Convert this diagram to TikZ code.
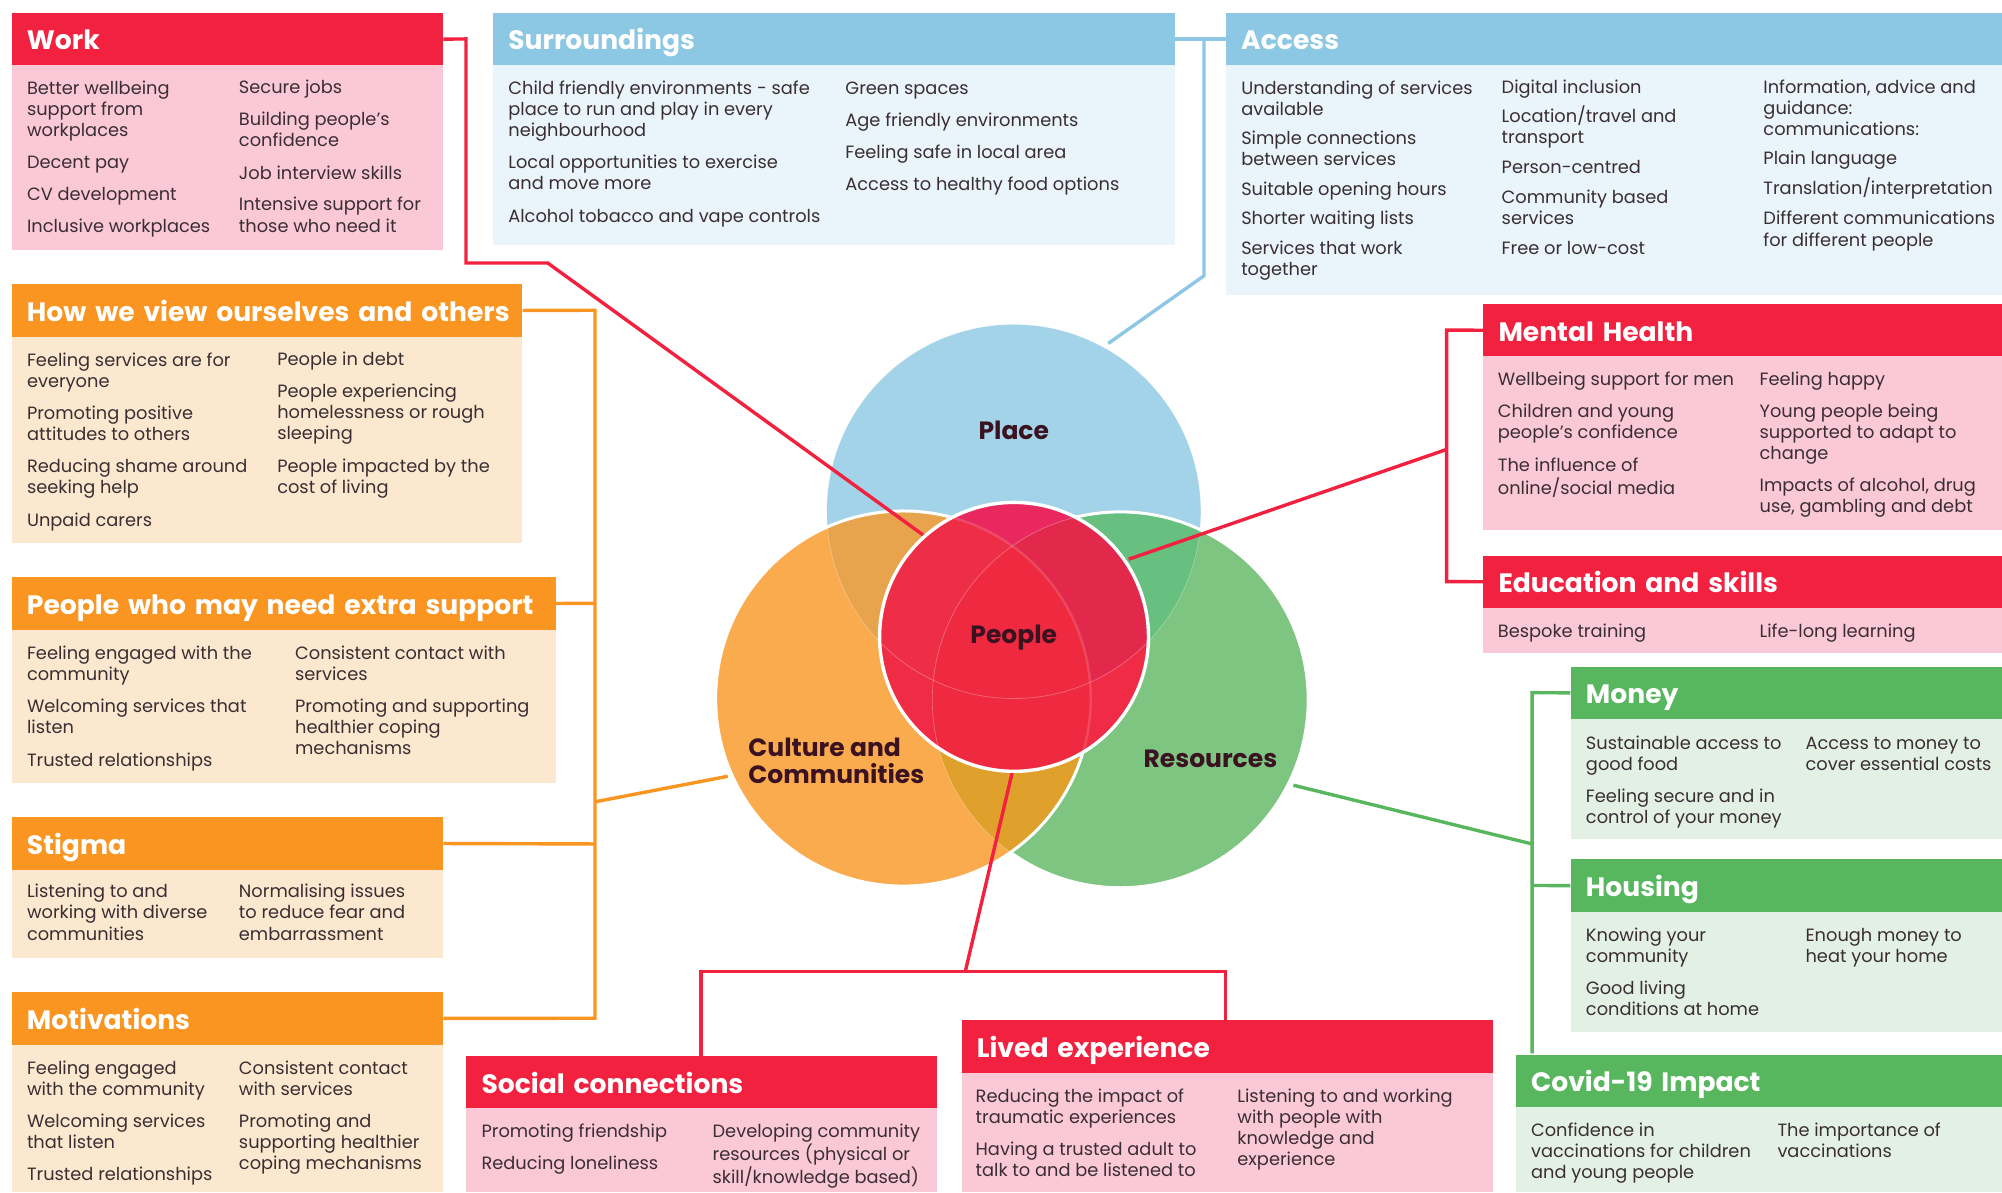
\documentclass[tikz,border=0pt]{standalone}
\usepackage{fontspec}
\setmainfont{Poppins}
\usetikzlibrary{calc}
\definecolor{redH}{HTML}{F1213F}\definecolor{redB}{HTML}{FAC8D6}
\definecolor{oraH}{HTML}{F99520}\definecolor{oraB}{HTML}{FCE8CF}
\definecolor{grnH}{HTML}{58B65F}\definecolor{grnB}{HTML}{E3F1E5}
\definecolor{bluH}{HTML}{8CC8E4}\definecolor{bluB}{HTML}{E9F4FB}
\definecolor{bodyT}{HTML}{3A2E33}\definecolor{labT}{HTML}{3B1220}
\definecolor{cPlace}{HTML}{A3D3E9}\definecolor{cCult}{HTML}{FAAB4E}\definecolor{cRes}{HTML}{7DC581}
\definecolor{cPeople}{HTML}{EF2B45}
\definecolor{lPC}{HTML}{E8A44C}\definecolor{lPR}{HTML}{67C07F}\definecolor{lCR}{HTML}{DFA02C}
\definecolor{pTop}{HTML}{E8285F}\definecolor{pPR}{HTML}{E2294C}\definecolor{pPC}{HTML}{EE2E47}\definecolor{pMid}{HTML}{EF2940}
\newcounter{tbc}
\def\CircP{(794,400.6) circle[radius=146.5]}
\def\CircC{(707.4,547.1) circle[radius=146.9]}
\def\CircR{(877.4,548.1) circle[radius=147.2]}
\def\CircH{(794.2,498.8) circle[radius=105.3]}
\newcommand\panel[9]{%
  \pgfmathsetlengthmacro\pw{(#4-#2)*1.2768}%
  \pgfmathsetlengthmacro\ph{(#5-#3)*1.2768}%
  \pgfmathsetlengthmacro\bh{(#6-#5)*1.2768}%
  \node[headbox,fill=#7,minimum width=\pw,minimum height=\ph,text width=\pw-30.6pt] (#1) at (#2,#3) {\hbox{#9}};
  \node[bodybox,fill=#8,minimum width=\pw,minimum height=\bh] (#1B) at (#2,#5) {};
}
\newcommand\tb[3]{%
  \stepcounter{tbc}%
  \node[bodytxt] (t\arabic{tbc}) at (#1,{#2+5.2}) {\begin{tabular}[t]{@{}l@{}}#3\end{tabular}};
}
\tikzset{
  headbox/.style={anchor=north west,inner xsep=15.3pt,inner ysep=0pt,align=left,text=white,text height=21.6pt,text depth=0pt,font=\fontsize{26.6}{28}\selectfont\bfseries},
  bodybox/.style={anchor=north west,inner sep=0pt},
  bodytxt/.style={anchor=base west,inner sep=0pt,text=bodyT,font=\fontsize{17.8}{21.1}\selectfont},
  venntxt/.style={inner sep=0pt,text=labT,align=left,font=\fontsize{25}{27}\selectfont\bfseries},
  conn/.style={line width=3.4pt,line join=miter},
  ghost/.style={draw=white,line width=0.7pt,opacity=.3},
  ghostp/.style={draw=white,line width=2.5pt,opacity=.14}
}
\begin{document}
\begin{tikzpicture}[x=1.2768pt,y=-1.2768pt]
\useasboundingbox (0,0) rectangle (1568,933.6);
% --- Venn base
\fill[cPlace] \CircP;
\fill[cRes] \CircR;
\begin{scope}\clip \CircP; \fill[lPR] \CircR; \end{scope}
\draw[white,line width=3pt] \CircR;
\fill[cCult] \CircC;
\begin{scope}\clip \CircC; \fill[lPC] \CircP; \end{scope}
\begin{scope}\clip \CircC; \fill[lCR] \CircR; \end{scope}
\draw[white,line width=3pt] \CircC;
\draw[ghost] \CircP;
\begin{scope}\clip \CircC; \draw[ghost] \CircR; \end{scope}
% --- panels
\panel{work}{9}{10}{347}{51}{196}{redH}{redB}{Work}
\panel{surr}{386}{10}{920}{51}{192}{bluH}{bluB}{Surroundings}
\panel{acc}{960}{10}{1568}{51}{231}{bluH}{bluB}{Access}
\panel{how}{9}{222}{409}{264}{425}{oraH}{oraB}{How we view ourselves and others}
\panel{extra}{9}{452}{435}{493}{613}{oraH}{oraB}{People who may need extra support}
\panel{stig}{9}{640}{347}{681}{750}{oraH}{oraB}{Stigma}
\panel{moti}{9}{777}{347}{818}{933.6}{oraH}{oraB}{Motivations}
\panel{ment}{1161.5}{238}{1568}{279}{415}{redH}{redB}{Mental Health}
\panel{edu}{1161.5}{435}{1568}{476}{511}{redH}{redB}{Education and skills}
\panel{mon}{1230}{522}{1568}{563}{657}{grnH}{grnB}{Money}
\panel{hou}{1230}{673}{1568}{714}{808}{grnH}{grnB}{Housing}
\panel{cov}{1187}{826}{1568}{867}{933.6}{grnH}{grnB}{Covid-19 Impact}
\panel{soc}{365}{827}{734}{868}{933.6}{redH}{redB}{Social connections}
\panel{liv}{753}{799}{1169}{840}{933.6}{redH}{redB}{Lived experience}
% --- connector coordinates
\coordinate (w1) at (365,30.5); \coordinate (w2) at (365,206); \coordinate (w3) at (429,206); \coordinate (w4) at (723,419);
\coordinate (a1) at (943,30.5); \coordinate (a2) at (943,216); \coordinate (a3) at (868,269);
\coordinate (h1) at (466,243); \coordinate (h2) at (466,797.5); \coordinate (h3) at (466,472.5); \coordinate (h4) at (466,661); \coordinate (h5) at (466,628); \coordinate (h6) at (570,608);
\coordinate (m1) at (1133,258.5); \coordinate (m2) at (1133,455.5); \coordinate (m3) at (1133,352); \coordinate (m4) at (884,438);
\coordinate (g1) at (1200,542.5); \coordinate (g2) at (1200,825); \coordinate (g3) at (1200,693.5); \coordinate (g4) at (1200,661); \coordinate (g5) at (1013,615);
\coordinate (l1) at (549,761); \coordinate (l2) at (960,761); \coordinate (l3) at (756,761); \coordinate (l4) at (793,604);
\coordinate (socT) at (549,827); \coordinate (livT) at (960,799);
\draw[conn,redH] (work.east) -- (w1) -- (w2) -- (w3) -- (w4);
\draw[conn,bluH] (surr.east) -- (acc.west);
\draw[conn,bluH] (a1) -- (a2) -- (a3);
\draw[conn,oraH] (how.east) -- (h1) -- (h2) -- (moti.east);
\draw[conn,oraH] (extra.east) -- (h3);
\draw[conn,oraH] (stig.east) -- (h4);
\draw[conn,oraH] (h5) -- (h6);
\draw[conn,redH] (ment.west) -- (m1) -- (m2) -- (edu.west);
\draw[conn,redH] (m3) -- (m4);
\draw[conn,grnH] (mon.west) -- (g1) -- (g2);
\draw[conn,grnH] (hou.west) -- (g3);
\draw[conn,grnH] (g4) -- (g5);
\draw[conn,redH] (socT) -- (l1) -- (l2) -- (livT);
\draw[conn,redH] (l3) -- (l4);
% --- People circle
\fill[cPeople] \CircH;
\begin{scope}\clip \CircH;
  \fill[pTop] \CircP;
  \begin{scope}\clip \CircP; \fill[pPC] \CircC; \fill[pPR] \CircR;
    \begin{scope}\clip \CircC; \fill[pMid] \CircR; \end{scope}
  \end{scope}
  \begin{scope}\clip \CircC; \fill[pMid] \CircR; \end{scope}
  \draw[ghostp] \CircC; \draw[ghost] \CircP; \draw[ghost] \CircR;
\end{scope}
\draw[white,line width=3.4pt] \CircH;
% --- labels
\node[venntxt] (lPlace) at (794,337) {Place};
\node[venntxt] (lPeople) at (794,499) {People};
\node[venntxt,anchor=west] (lCult) at (586,596) {Culture and\\Communities};
\node[venntxt] (lRes) at (948,594) {Resources};
% --- body text
\tb{21}{69}{Better wellbeing\\support from\\workplaces}
\tb{21}{127}{Decent pay}
\tb{21}{152}{CV development}
\tb{21}{177}{Inclusive workplaces}
\tb{187}{68}{Secure jobs}
\tb{187}{93}{Building people’s\\confidence}
\tb{187}{135}{Job interview skills}
\tb{187}{160}{Intensive support for\\those who need it}
\tb{398}{69}{Child friendly environments - safe\\place to run and play in every\\neighbourhood}
\tb{398}{127}{Local opportunities to exercise\\and move more}
\tb{398}{169}{Alcohol tobacco and vape controls}
\tb{662}{69}{Green spaces}
\tb{662}{94}{Age friendly environments}
\tb{662}{119}{Feeling safe in local area}
\tb{662}{144}{Access to healthy food options}
\tb{972}{69}{Understanding of services\\available}
\tb{972}{108}{Simple connections\\between services}
\tb{972}{148}{Suitable opening hours}
\tb{972}{171}{Shorter waiting lists}
\tb{972}{194}{Services that work\\together}
\tb{1176}{68}{Digital inclusion}
\tb{1176}{91}{Location/travel and\\transport}
\tb{1176}{131}{Person-centred}
\tb{1176}{154}{Community based\\services}
\tb{1176}{194}{Free or low-cost}
\tb{1381}{68}{Information, advice and\\guidance:\\communications:}
\tb{1381}{124}{Plain language}
\tb{1381}{147}{Translation/interpretation}
\tb{1381}{171}{Different communications\\for different people}
\tb{21}{282}{Feeling services are for\\everyone}
\tb{21}{323}{Promoting positive\\attitudes to others}
\tb{21}{365}{Reducing shame around\\seeking help}
\tb{21}{407}{Unpaid carers}
\tb{217}{281}{People in debt}
\tb{217}{306}{People experiencing\\homelessness or rough\\sleeping}
\tb{217}{365}{People impacted by the\\cost of living}
\tb{21}{511}{Feeling engaged with the\\community}
\tb{21}{553}{Welcoming services that\\listen}
\tb{21}{595}{Trusted relationships}
\tb{231}{511}{Consistent contact with\\services}
\tb{231}{553}{Promoting and supporting\\healthier coping\\mechanisms}
\tb{21}{698}{Listening to and\\working with diverse\\communities}
\tb{187}{698}{Normalising issues\\to reduce fear and\\embarrassment}
\tb{21}{836}{Feeling engaged\\with the community}
\tb{21}{878}{Welcoming services\\that listen}
\tb{21}{919}{Trusted relationships}
\tb{187}{836}{Consistent contact\\with services}
\tb{187}{878}{Promoting and\\supporting healthier\\coping mechanisms}
\tb{1173}{297}{Wellbeing support for men}
\tb{1173}{322}{Children and young\\people’s confidence}
\tb{1173}{364}{The influence of\\online/social media}
\tb{1378}{297}{Feeling happy}
\tb{1378}{322}{Young people being\\supported to adapt to\\change}
\tb{1378}{380}{Impacts of alcohol, drug\\use, gambling and debt}
\tb{1173}{494}{Bespoke training}
\tb{1378}{494}{Life-long learning}
\tb{1242}{582}{Sustainable access to\\good food}
\tb{1242}{623}{Feeling secure and in\\control of your money}
\tb{1414}{582}{Access to money to\\cover essential costs}
\tb{1242}{732}{Knowing your\\community}
\tb{1242}{774}{Good living\\conditions at home}
\tb{1414}{732}{Enough money to\\heat your home}
\tb{1199}{885}{Confidence in\\vaccinations for children\\and young people}
\tb{1392}{885}{The importance of\\vaccinations}
\tb{377}{886}{Promoting friendship}
\tb{377}{911}{Reducing loneliness}
\tb{558}{886}{Developing community\\resources (physical or\\skill/knowledge based)}
\tb{764}{858}{Reducing the impact of\\traumatic experiences}
\tb{764}{900}{Having a trusted adult to\\talk to and be listened to}
\tb{969}{858}{Listening to and working\\with people with\\knowledge and\\experience}
\end{tikzpicture}
\end{document}
